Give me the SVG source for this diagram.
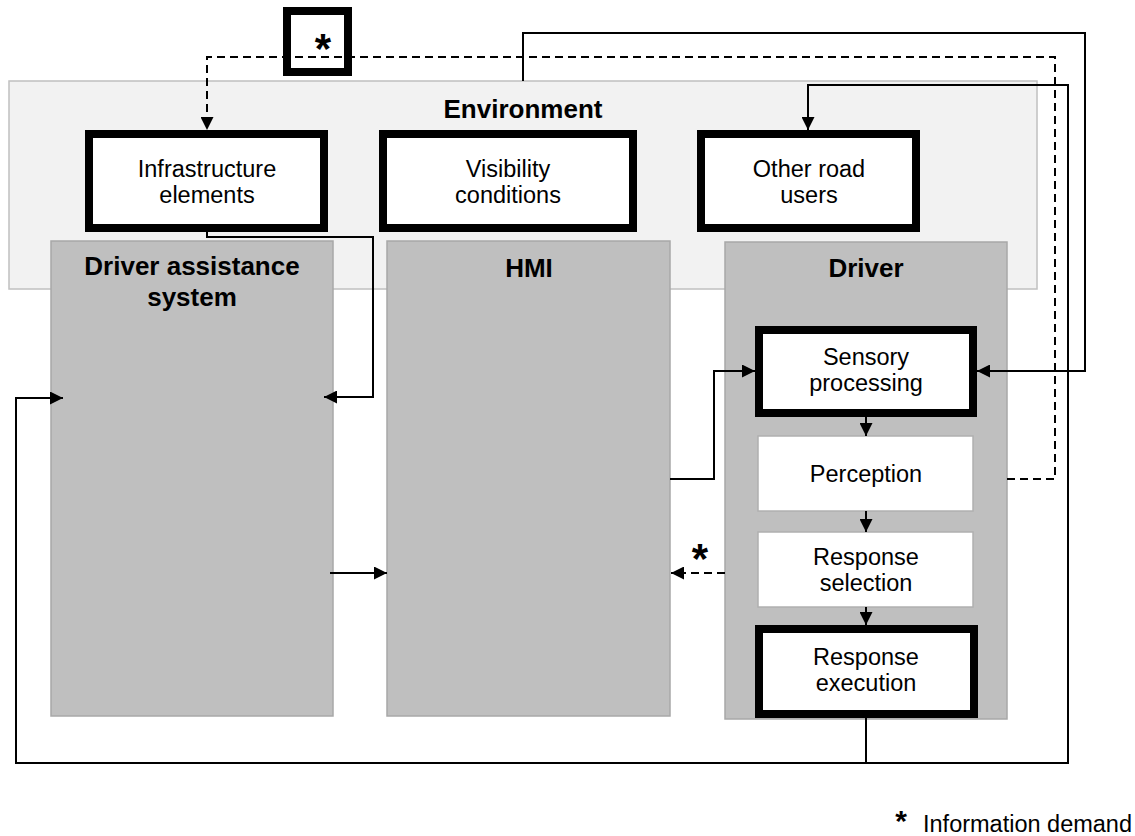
<svg xmlns="http://www.w3.org/2000/svg" width="1135" height="836" viewBox="0 0 1135 836">
  <style>
    .env { fill: #f2f2f2; stroke: #c0c0c0; stroke-width: 1.5; }
    .panel { fill: #bfbfbf; stroke: #a8a8a8; stroke-width: 1.5; }
    .thick { fill: #ffffff; stroke: #000000; stroke-width: 8; }
    .thin { fill: #ffffff; stroke: #b0b0b0; stroke-width: 1.5; }
    .title { font-family: "Liberation Sans", Arial, sans-serif; font-weight: bold; font-size: 26px; fill: #000; text-anchor: middle; }
    .lbl { font-family: "Liberation Sans", Arial, sans-serif; font-size: 23.5px; fill: #000; text-anchor: middle; }
    .star { font-family: "Liberation Sans", Arial, sans-serif; font-weight: bold; font-size: 42px; fill: #000; text-anchor: middle; }
    .line { fill: none; stroke: #000; stroke-width: 2; }
    .dash { fill: none; stroke: #000; stroke-width: 2; stroke-dasharray: 8 5; }
  </style>
  <defs>
    <marker id="arr" viewBox="0 0 13 13" refX="13" refY="6.5" markerWidth="13" markerHeight="13" markerUnits="userSpaceOnUse" orient="auto">
      <path d="M0,0 L13,6.5 L0,13 Z" fill="#000"/>
    </marker>
  </defs>

  <rect width="1135" height="836" fill="#ffffff"/>

  <!-- Environment frame -->
  <g id="environment">
    <rect class="env" x="9" y="81" width="1028" height="208"/>
    <text class="title" x="523" y="118">Environment</text>
  </g>

  <g id="infrastructure">
    <rect class="thick" x="89" y="134" width="235" height="94"/>
    <text class="lbl" x="207" y="177">Infrastructure</text>
    <text class="lbl" x="207" y="203">elements</text>
  </g>

  <g id="visibility">
    <rect class="thick" x="383" y="134" width="250" height="94"/>
    <text class="lbl" x="508" y="177">Visibility</text>
    <text class="lbl" x="508" y="203">conditions</text>
  </g>

  <g id="road-users">
    <rect class="thick" x="701" y="134" width="215" height="94"/>
    <text class="lbl" x="809" y="177">Other road</text>
    <text class="lbl" x="809" y="203">users</text>
  </g>

  <g id="das">
    <rect class="panel" x="51" y="241" width="282" height="475"/>
    <text class="title" x="192" y="275">Driver assistance</text>
    <text class="title" x="192" y="306">system</text>
  </g>

  <g id="hmi">
    <rect class="panel" x="387" y="241" width="283" height="475"/>
    <text class="title" x="529" y="277">HMI</text>
  </g>

  <g id="driver">
    <rect class="panel" x="725" y="242" width="282" height="477"/>
    <text class="title" x="866" y="277">Driver</text>
  </g>

  <g id="sensory">
    <rect class="thick" x="759" y="330" width="214" height="83"/>
    <text class="lbl" x="866" y="365">Sensory</text>
    <text class="lbl" x="866" y="391">processing</text>
  </g>

  <g id="perception">
    <rect class="thin" x="758" y="436" width="215" height="75"/>
    <text class="lbl" x="866" y="482">Perception</text>
  </g>

  <g id="selection">
    <rect class="thin" x="758" y="532" width="215" height="75"/>
    <text class="lbl" x="866" y="565">Response</text>
    <text class="lbl" x="866" y="591">selection</text>
  </g>

  <g id="execution">
    <rect class="thick" x="759" y="629" width="215" height="85"/>
    <text class="lbl" x="866" y="665">Response</text>
    <text class="lbl" x="866" y="691">execution</text>
  </g>

  <!-- Connectors, drawn over the panels -->
  <g id="connectors">
    <path class="dash" d="M1007,479 H1055 V57 H207 V130" marker-end="url(#arr)"/>
    <path class="line" d="M523,81 V33 H1085 V371 H977" marker-end="url(#arr)"/>
    <path class="line" d="M866,718 V763 H1068 V85 H808 V130" marker-end="url(#arr)"/>
    <path class="line" d="M866,763 H16 V398 H63" marker-end="url(#arr)"/>
    <path class="line" d="M207,232 V237 H373 V397 H324" marker-end="url(#arr)"/>
    <path class="line" d="M330,573 H387" marker-end="url(#arr)"/>
    <path class="line" d="M670,479 H714 V371 H755" marker-end="url(#arr)"/>
    <path class="dash" d="M725,573 H671" marker-end="url(#arr)"/>
    <path class="line" d="M866,417 V436" marker-end="url(#arr)"/>
    <path class="line" d="M866,511 V532" marker-end="url(#arr)"/>
    <path class="line" d="M866,607 V625" marker-end="url(#arr)"/>
  </g>

  <!-- Information demand marker box on the top dashed line -->
  <g id="demand-box">
    <rect x="287" y="11" width="61" height="61" fill="none" stroke="#000" stroke-width="8"/>
    <text class="star" x="323" y="63">*</text>
  </g>

  <g id="hmi-star">
    <text class="star" x="700" y="573">*</text>
  </g>

  <g id="legend">
    <text class="star" x="901" y="831" style="font-size:30px">*</text>
    <text class="lbl" x="923" y="832" style="text-anchor:start">Information demand</text>
  </g>
</svg>
